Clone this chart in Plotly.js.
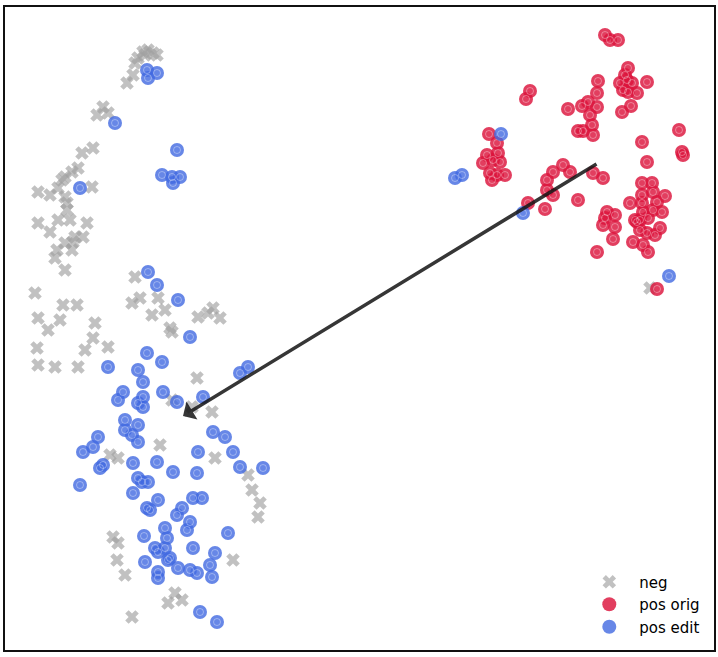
<!DOCTYPE html>
<html>
<head>
<meta charset="utf-8">
<script src="https://cdn.plot.ly/plotly-3.0.1.min.js"></script>
<style>html,body{margin:0;padding:0;background:#fff;}#chart{width:718px;height:657px;}</style>
</head>
<body>
<div id="chart"></div>
<script>
// Projected 2-D embedding coordinates (y grows downward)
const negX = [143,148,153,138,135,145,157,133,127,103,97,108,93,82,78,72,65,38,50,58,65,67,92,62,67,38,50,58,70,87,83,75,73,65,57,55,65,72,135,35,63,77,38,48,60,95,93,85,108,37,38,55,78,132,140,158,152,165,170,172,198,208,213,220,197,212,192,172,160,110,118,215,248,252,260,258,113,118,117,125,233,132,175,168,182,650];
const negY = [52,50,53,58,63,55,55,75,83,107,115,113,148,153,168,172,177,192,195,188,197,203,187,180,210,223,232,220,220,223,237,237,242,243,250,258,270,250,277,293,305,305,318,330,320,323,338,350,347,348,365,367,367,303,298,298,315,310,328,332,317,313,308,318,378,412,407,400,445,455,458,458,475,490,503,517,537,543,560,575,560,617,593,603,600,288];

const origX = [605,610,618,530,526,628,625,620,627,632,623,628,637,647,598,597,568,582,588,597,590,592,578,583,593,622,631,679,642,489,497,487,498,493,483,500,490,497,505,492,682,683,647,563,553,570,547,547,553,593,603,578,528,545,642,652,653,642,665,657,630,642,643,653,662,607,615,605,635,640,648,603,615,613,597,637,660,640,647,655,633,643,648,657];
const origY = [35,40,40,91,99,68,75,83,80,83,90,92,93,82,81,93,109,106,102,107,115,125,131,131,135,112,106,130,142,134,143,155,153,160,163,162,173,175,175,180,152,155,162,165,172,172,180,190,195,173,178,200,203,209,183,183,192,195,196,202,203,203,212,210,212,212,215,218,220,220,218,225,227,239,252,222,228,230,233,235,242,245,252,289];

const editX = [147,157,148,115,177,162,172,180,173,80,148,157,178,190,147,162,108,138,143,240,248,123,118,138,143,143,163,177,203,125,138,125,132,138,98,93,83,213,225,198,233,103,100,80,133,157,240,263,173,197,138,142,148,133,158,147,150,193,202,182,177,190,187,165,144,167,228,155,158,165,193,215,145,170,168,178,190,197,210,212,158,158,200,217,501,455,462,523,669];
const editY = [70,73,78,123,150,175,177,177,183,188,272,285,300,337,353,362,367,370,382,373,367,392,400,403,407,397,392,402,397,420,425,430,435,442,437,447,452,432,437,452,452,465,468,485,463,462,467,468,472,473,478,482,482,493,500,508,510,498,498,508,515,522,530,528,536,538,533,548,552,548,548,553,562,558,560,568,570,573,565,577,572,578,612,622,134,178,175,213,276];

const seriesNames = ['neg', 'pos orig', 'pos edit'];
// edit direction arrow: from tail (pos orig centre) to head (pos edit centre)
const arrowTail = [598, 163];
const arrowHead = [183, 416];

const RED = 'rgb(220,20,60)';
const BLUE = 'rgb(65,105,225)';

function ring(x, y) {
  return {
    x: x, y: y, type: 'scatter', mode: 'markers', showlegend: false, hoverinfo: 'skip',
    marker: {symbol: 'circle-open', size: 7, color: 'rgba(255,255,255,0.35)', line: {width: 1, color: 'rgba(255,255,255,0.35)'}}
  };
}

const traces = [
  {x: negX, y: negY, type: 'scatter', mode: 'markers', name: seriesNames[0],
   marker: {symbol: 'x', size: 12, color: 'rgba(160,160,160,0.65)', line: {width: 0}}},
  {x: origX, y: origY, type: 'scatter', mode: 'markers', name: seriesNames[1],
   marker: {symbol: 'circle', size: 14, color: RED, opacity: 0.82, line: {width: 0}}},
  ring(origX, origY),
  {x: editX, y: editY, type: 'scatter', mode: 'markers', name: seriesNames[2],
   marker: {symbol: 'circle', size: 14, color: BLUE, opacity: 0.8, line: {width: 0}}},
  ring(editX, editY)
];

const axisBase = {showgrid: false, zeroline: false, showticklabels: false, ticks: '',
  showline: true, mirror: true, linecolor: '#111', linewidth: 2};

const layout = {
  width: 718, height: 657,
  margin: {l: 5, r: 4, t: 7, b: 7, pad: 0},
  paper_bgcolor: '#fff', plot_bgcolor: '#fff',
  font: {family: 'DejaVu Sans, sans-serif', size: 15, color: '#000'},
  xaxis: Object.assign({range: [5, 714]}, axisBase),
  yaxis: Object.assign({range: [650, 7]}, axisBase),
  showlegend: true,
  legend: {x: 0.81, y: 0.01, xanchor: 'left', yanchor: 'bottom', bgcolor: 'rgba(0,0,0,0)',
    itemwidth: 50,
    font: {family: 'DejaVu Sans, sans-serif', size: 15, color: '#000'}, tracegroupgap: 0},
  annotations: [{
    x: arrowHead[0], y: arrowHead[1], ax: arrowTail[0], ay: arrowTail[1],
    xref: 'x', yref: 'y', axref: 'x', ayref: 'y', text: '', showarrow: true,
    arrowhead: 1, arrowsize: 1, arrowwidth: 3.5, arrowcolor: 'rgba(20,20,20,0.85)', standoff: 0
  }]
};

Plotly.newPlot('chart', traces, layout, {displayModeBar: false, staticPlot: true});
</script>
</body>
</html>
